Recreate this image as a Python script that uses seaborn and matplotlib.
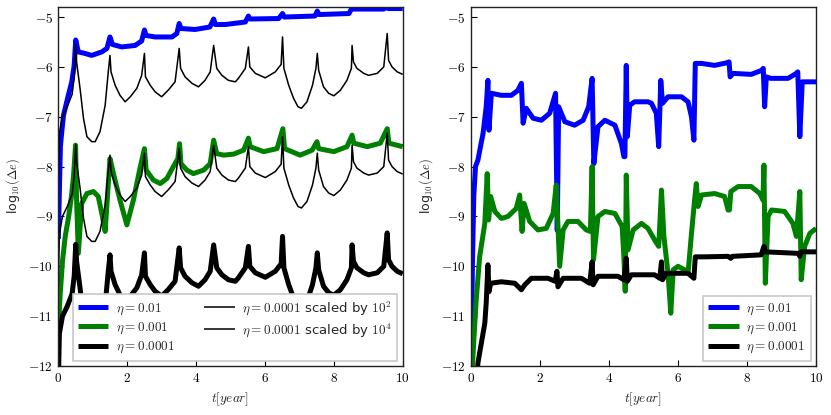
import numpy as np
import pandas as pd
import matplotlib
matplotlib.use("Agg")
import matplotlib.pyplot as plt
import seaborn as sns

# ---------------- data ----------------
# Left panel
t_blue_l = [0.0, 0.03, 0.06, 0.1, 0.15, 0.29, 0.39, 0.46, 0.505, 0.58, 0.77, 0.97, 1.26, 1.41, 1.50, 1.57,
            1.84, 2.23, 2.42, 2.50, 2.55, 2.81, 3.3, 3.44, 3.51, 3.56, 3.97, 4.4, 4.51, 4.56, 4.85, 5.43,
            5.52, 5.57, 6.4, 6.51, 6.56, 7.45, 7.52, 7.57, 8.44, 8.51, 9.45, 9.52, 9.58, 10.0]
v_blue_l = [-9.45, -8.5, -7.6, -7.3, -6.97, -6.57, -6.3, -5.97, -5.46, -5.7, -5.73, -5.77, -5.7, -5.63, -5.4, -5.55,
            -5.6, -5.57, -5.48, -5.26, -5.37, -5.4, -5.4, -5.33, -5.13, -5.23, -5.25, -5.2, -5.04, -5.15, -5.15, -5.1,
            -4.98, -5.04, -5.03, -4.93, -5.0, -4.98, -4.88, -4.95, -4.93, -4.84, -4.84, -4.80, -4.83, -4.83]

t_green_l = [0.0, 0.05, 0.12, 0.2, 0.3, 0.38, 0.44, 0.5, 0.53, 0.58, 0.68, 0.83, 1.02, 1.16, 1.28, 1.36, 1.4,
             1.5, 1.6, 1.79, 1.99, 2.18, 2.36, 2.5, 2.55, 2.76, 2.96, 3.15, 3.34, 3.47, 3.52, 3.56, 3.73, 3.92,
             4.22, 4.41, 4.51, 4.6, 4.8, 5.09, 5.38, 5.52, 5.57, 5.96, 6.35, 6.52, 6.57, 7.02, 7.37, 7.51, 7.56,
             8.0, 8.38, 8.53, 8.58, 8.97, 9.35, 9.55, 9.6, 10.0]
v_green_l = [-11.3, -10.6, -9.9, -9.4, -9.0, -8.6, -8.2, -7.57, -8.67, -9.74, -8.74, -8.54, -8.5, -8.6, -9.0, -9.3, -8.87,
             -7.84, -8.14, -8.67, -9.17, -8.67, -8.07, -7.64, -8.07, -8.27, -8.34, -8.24, -8.0, -7.84, -7.54, -7.94, -8.07, -8.14,
             -8.07, -7.94, -7.47, -7.74, -7.77, -7.75, -7.67, -7.43, -7.6, -7.7, -7.64, -7.24, -7.64, -7.77, -7.67, -7.5, -7.64,
             -7.7, -7.6, -7.37, -7.53, -7.6, -7.53, -7.24, -7.53, -7.6]

t_black_l = [0.0, 0.03, 0.12, 0.26, 0.4, 0.46, 0.505, 0.53, 0.63, 0.73, 0.83, 0.97, 1.07, 1.21, 1.36, 1.45, 1.50,
             1.53, 1.65, 1.79, 1.94, 2.09, 2.28, 2.42, 2.50, 2.53, 2.67, 2.81, 3.0, 3.2, 3.39, 3.51, 3.55, 3.68,
             3.88, 4.07, 4.26, 4.41, 4.51, 4.6, 4.75, 4.94, 5.14, 5.23, 5.43, 5.52, 5.56, 5.72, 6.01, 6.3, 6.47,
             6.51, 6.55, 6.69, 6.83, 6.96, 7.06, 7.22, 7.38, 7.48, 7.52, 7.56, 7.70, 7.85, 8.0, 8.19, 8.38, 8.51,
             8.53, 8.57, 8.67, 8.87, 9.01, 9.26, 9.45, 9.55, 9.59, 9.69, 9.84, 10.0]
v_black_l = [-12.4, -11.35, -11.0, -10.8, -10.55, -10.2, -9.56, -9.9, -10.43, -11.03, -11.4, -11.5, -11.5, -11.3, -10.77, -10.1, -9.77,
             -10.1, -10.37, -10.57, -10.70, -10.6, -10.43, -10.17, -9.73, -10.2, -10.37, -10.5, -10.6, -10.46, -10.3, -9.63, -10.03, -10.2,
             -10.33, -10.4, -10.27, -10.1, -9.57, -10.03, -10.17, -10.27, -10.3, -10.23, -10.03, -9.6, -10.0, -10.13, -10.22, -10.1, -9.95,
             -9.4, -10.03, -10.37, -10.63, -10.8, -10.83, -10.7, -10.37, -10.03, -9.73, -10.07, -10.4, -10.53, -10.58, -10.47, -10.27, -10.03,
             -9.57, -9.9, -10.03, -10.13, -10.17, -10.13, -10.0, -9.33, -9.87, -10.0, -10.1, -10.15]

# Right panel
t_blue_r = [0.0, 0.04, 0.08, 0.13, 0.2, 0.35, 0.44, 0.49, 0.52, 0.59, 0.88, 1.17, 1.36, 1.46, 1.51, 1.6, 1.8, 2.04,
            2.28, 2.45, 2.5, 2.54, 2.72, 3.0, 3.25, 3.41, 3.51, 3.56, 3.68, 3.88, 4.17, 4.36, 4.43, 4.46, 4.5, 4.53,
            4.6, 4.74, 5.13, 5.23, 5.37, 5.44, 5.5, 5.55, 5.71, 6.1, 6.29, 6.39, 6.46, 6.5, 6.68, 7.06, 7.4, 7.48,
            7.51, 7.59, 8.12, 8.42, 8.47, 8.51, 8.56, 8.69, 9.19, 9.43, 9.47, 9.53, 9.6, 10.0]
v_blue_r = [-12.3, -10.0, -8.6, -8.0, -7.87, -7.33, -6.8, -6.27, -7.27, -6.53, -6.57, -6.57, -6.47, -6.33, -7.13, -6.83, -7.03, -7.07,
            -6.93, -6.53, -9.28, -6.8, -7.1, -7.17, -7.07, -6.8, -6.23, -7.94, -7.2, -7.07, -7.17, -7.54, -7.8, -7.8, -5.97, -7.4,
            -6.77, -6.7, -6.7, -6.73, -6.93, -7.6, -6.27, -6.73, -6.6, -6.6, -6.7, -7.0, -7.47, -5.93, -5.93, -5.97, -5.92, -5.9,
            -6.2, -6.13, -6.15, -6.07, -6.03, -6.8, -6.2, -6.23, -6.23, -6.13, -6.1, -7.4, -6.3, -6.3]

t_green_r = [0.0, 0.08, 0.15, 0.25, 0.4, 0.47, 0.51, 0.57, 0.69, 0.88, 1.07, 1.31, 1.41, 1.48, 1.54, 1.7, 1.94, 2.18,
             2.38, 2.47, 2.57, 2.67, 2.81, 3.1, 3.34, 3.46, 3.51, 3.55, 3.68, 3.88, 4.17, 4.38, 4.43, 4.47, 4.5, 4.55,
             4.7, 4.94, 5.13, 5.32, 5.44, 5.52, 5.59, 5.71, 5.79, 5.86, 6.0, 6.19, 6.29, 6.39, 6.48, 6.53, 6.58, 6.68,
             7.06, 7.35, 7.45, 7.49, 7.53, 7.74, 8.12, 8.37, 8.46, 8.49, 8.53, 8.61, 8.71, 9.09, 9.33, 9.43, 9.53, 9.57,
             9.67, 9.82, 10.0]
v_green_r = [-12.5, -11.5, -10.68, -9.81, -9.14, -8.14, -9.07, -8.6, -8.9, -9.04, -9.0, -8.84, -8.57, -9.3, -8.74, -9.1, -9.27, -9.24,
             -8.94, -8.37, -10.0, -9.27, -9.1, -9.1, -9.27, -9.3, -8.0, -9.87, -9.0, -8.9, -8.94, -9.2, -9.8, -10.5, -8.17, -9.67,
             -9.27, -9.14, -9.24, -9.47, -9.6, -8.47, -9.4, -10.14, -10.94, -10.07, -10.0, -10.07, -10.14, -9.34, -8.67, -8.34, -8.8, -8.57,
             -8.54, -8.6, -8.87, -8.87, -8.5, -8.4, -8.4, -8.54, -8.67, -7.97, -10.34, -9.0, -8.87, -8.9, -9.14, -9.4, -8.5, -10.27,
             -9.6, -9.34, -9.24]

t_black_r = [0.1, 0.2, 0.3, 0.4, 0.44, 0.49, 0.52, 0.57, 0.88, 1.27, 1.46, 1.56, 1.75, 2.23, 2.44, 2.49, 2.52, 2.67,
             3.2, 3.44, 3.51, 3.54, 3.68, 4.26, 4.43, 4.5, 4.53, 4.65, 5.32, 5.47, 5.52, 5.55, 5.66, 6.29, 6.46, 6.5,
             6.77, 7.45, 7.53, 7.57, 8.41, 8.49, 8.53, 9.48, 9.53, 9.57, 10.0]
v_black_r = [-13.0, -11.94, -11.54, -11.14, -10.74, -9.97, -10.51, -10.34, -10.31, -10.34, -10.47, -10.37, -10.24, -10.24, -10.3, -10.1, -10.41, -10.24,
             -10.24, -10.34, -9.91, -10.37, -10.2, -10.2, -10.27, -9.84, -10.3, -10.17, -10.17, -10.24, -9.91, -10.27, -10.14, -10.14, -10.24, -9.81,
             -9.81, -9.8, -9.84, -9.8, -9.77, -9.6, -9.71, -9.74, -9.8, -9.71, -9.71]

# scale factors (in log10) for the two thin reference curves on the left
scale_exps = [2, 4]

labels_thick = [r"$\eta = 0.01$", r"$\eta = 0.001$", r"$\eta = 0.0001$"]
labels_thin = [r"$\eta = 0.0001$ scaled by $10^2$", r"$\eta = 0.0001$ scaled by $10^4$"]

xticks = [0, 2, 4, 6, 8, 10]
xtick_labels = ["$0$", "$2$", "$4$", "$6$", "$8$", "$10$"]
yticks = [-12, -11, -10, -9, -8, -7, -6, -5]
ytick_labels = ["$-12$", "$-11$", "$-10$", "$-9$", "$-8$", "$-7$", "$-6$", "$-5$"]

# ---------------- style ----------------
sns.set_style("white")
plt.rcParams.update({
    "font.family": ["DejaVu Sans"],
    "mathtext.fontset": "cm",
    "xtick.direction": "in",
    "ytick.direction": "in",
    "xtick.major.size": 4,
    "ytick.major.size": 4,
    "xtick.major.width": 0.8,
    "ytick.major.width": 0.8,
    "xtick.color": "black",
    "ytick.color": "black",
    "axes.edgecolor": "#222222",
    "axes.linewidth": 1.0,
})

fig = plt.figure(figsize=(8.31, 4.15), dpi=100)
axL = fig.add_axes([0.0702, 0.118, 0.4144, 0.865])
axR = fig.add_axes([0.5668, 0.118, 0.4152, 0.865])

BLUE, GREEN, BLACK = "#0000ff", "#008000", "#000000"
LW_THICK, LW_THIN = 3.6, 1.1


def draw(ax, t, v, color, lw, label):
    df = pd.DataFrame({"t": t, "v": v})
    sns.lineplot(data=df, x="t", y="v", ax=ax, color=color, lw=lw, label=label,
                 estimator=None, sort=False, solid_joinstyle="round", solid_capstyle="butt")


# left
draw(axL, t_blue_l, v_blue_l, BLUE, LW_THICK, labels_thick[0])
draw(axL, t_green_l, v_green_l, GREEN, LW_THICK, labels_thick[1])
draw(axL, t_black_l, v_black_l, BLACK, LW_THICK, labels_thick[2])
for e, lab in zip(scale_exps, labels_thin):
    draw(axL, t_black_l, np.array(v_black_l) + e, BLACK, LW_THIN, lab)

# right
draw(axR, t_blue_r, v_blue_r, BLUE, LW_THICK, labels_thick[0])
draw(axR, t_green_r, v_green_r, GREEN, LW_THICK, labels_thick[1])
draw(axR, t_black_r, v_black_r, BLACK, LW_THICK, labels_thick[2])

for ax in (axL, axR):
    ax.set_xlim(0, 10)
    ax.set_ylim(-12, -4.8)
    ax.set_xticks(xticks)
    ax.set_xticklabels(xtick_labels, fontsize=9.5)
    ax.set_yticks(yticks)
    ax.set_yticklabels(ytick_labels, fontsize=9.5)
    ax.tick_params(axis="both", which="both", bottom=True, left=True, top=False, right=False, pad=4)
    ax.set_xlabel(r"$t[year]$", fontsize=9.5, labelpad=4)
    ax.set_ylabel(r"log$_{10}(\Delta e)$", fontsize=9, labelpad=4)
    for s in ax.spines.values():
        s.set_visible(True)

legL = axL.legend(loc="lower right", ncol=2, fontsize=9.5, frameon=True, fancybox=False,
                  handlelength=2.3, handletextpad=0.6, columnspacing=2.2,
                  borderaxespad=0.4, labelspacing=0.3)
legR = axR.legend(loc="lower right", ncol=1, fontsize=9.5, frameon=True, fancybox=False,
                  handlelength=2.3, handletextpad=0.6, borderaxespad=0.4, labelspacing=0.3)
for leg in (legL, legR):
    fr = leg.get_frame()
    fr.set_edgecolor("#c8c8c8")
    fr.set_linewidth(1.2)
    fr.set_alpha(1.0)

fig.savefig("out.png", dpi=100)
